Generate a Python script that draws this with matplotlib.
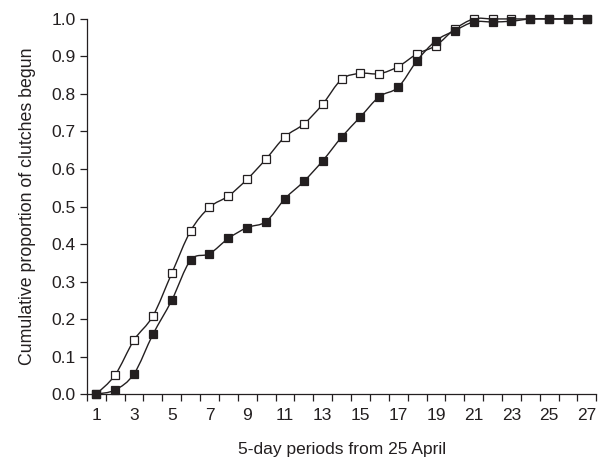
import matplotlib
matplotlib.use("Agg")
import matplotlib.pyplot as plt
import numpy as np
from matplotlib.patches import PathPatch
from matplotlib.path import Path
from matplotlib.ticker import FixedLocator, FormatStrFormatter

plt.rcParams["font.family"] = ["Liberation Sans", "DejaVu Sans"]

PERIODS = list(range(1, 28))
OPEN_VALUES = [0.0, 0.051, 0.144, 0.208, 0.322, 0.435, 0.498, 0.528, 0.573, 0.627,
               0.686, 0.72, 0.773, 0.839, 0.855, 0.854, 0.873, 0.907, 0.929, 0.973,
               1.0, 1.0, 1.0, 1.0, 1.0, 1.0, 1.0]
FILLED_VALUES = [0.0, 0.011, 0.054, 0.159, 0.25, 0.357, 0.374, 0.415, 0.444, 0.46,
                 0.521, 0.567, 0.622, 0.685, 0.739, 0.793, 0.818, 0.889, 0.942, 0.969,
                 0.992, 0.992, 0.994, 1.0, 1.0, 1.0, 1.0]
X_LABELS = [str(p) for p in range(1, 28, 2)]
INK = "#231f20"


def smooth_path(x, y):
    # Excel-style smoothed line: cubic Bezier through every point
    pts = np.column_stack([x, y]).astype(float)
    verts = [pts[0]]
    codes = [Path.MOVETO]
    n = len(pts)
    for i in range(n - 1):
        p_prev = pts[max(i - 1, 0)]
        p0, p1 = pts[i], pts[i + 1]
        p_next = pts[min(i + 2, n - 1)]
        c1 = p0 + (p1 - p_prev) / 6.0
        c2 = p1 - (p_next - p0) / 6.0
        verts += [c1, c2, p1]
        codes += [Path.CURVE4] * 3
    return Path(verts, codes)


fig = plt.figure(figsize=(6.03, 4.62), dpi=100)
ax = fig.add_axes([0.144, 0.147, 0.845, 0.812])

for values, face, z in [(OPEN_VALUES, "white", 3), (FILLED_VALUES, INK, 5)]:
    ax.add_patch(PathPatch(smooth_path(PERIODS, values), fill=False, edgecolor=INK,
                           lw=1.0, zorder=z, clip_on=False))
    ax.plot(PERIODS, values, ls="none", marker="s", ms=6, mfc=face, mec=INK,
            mew=0.9, zorder=z + 1, clip_on=False)

ax.set_xlim(0.5, 27.5)
ax.set_ylim(0.0, 1.0)
ax.set_yticks(np.arange(0, 1.01, 0.1))
ax.yaxis.set_major_formatter(FormatStrFormatter("%.1f"))
ax.set_xticks(range(1, 28, 2))
ax.set_xticklabels(X_LABELS)
ax.xaxis.set_minor_locator(FixedLocator(np.arange(0.5, 27.6, 1.0)))
ax.tick_params(axis="x", which="major", length=0, pad=10, labelsize=12.5, colors=INK)
ax.tick_params(axis="x", which="minor", length=5, width=0.9, direction="out", color=INK)
ax.tick_params(axis="y", length=5, width=0.9, direction="out", labelsize=12.5, colors=INK, pad=3)

for side in ("top", "right"):
    ax.spines[side].set_visible(False)
for side in ("left", "bottom"):
    ax.spines[side].set_linewidth(0.9)
    ax.spines[side].set_color(INK)

ax.set_xlabel("5-day periods from 25 April", fontsize=12.5, color=INK, labelpad=14)
ax.set_ylabel("Cumulative proportion of clutches begun", fontsize=12.8, color=INK, labelpad=11)

fig.savefig("out.png", dpi=100)
